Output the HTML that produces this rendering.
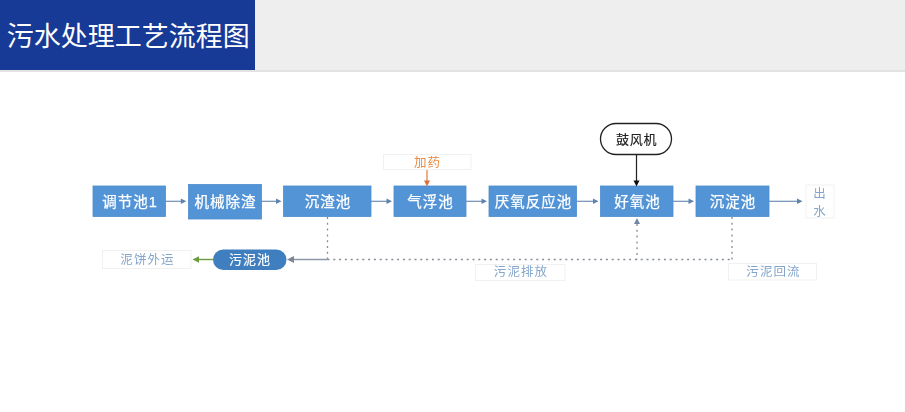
<!DOCTYPE html>
<html lang="zh-CN">
<head>
<meta charset="utf-8">
<title>污水处理工艺流程图</title>
<style>
html,body{margin:0;padding:0;background:#fff;}
body{width:905px;height:412px;overflow:hidden;position:relative;font-family:"Liberation Sans","Noto Sans CJK SC",sans-serif;}
.bar{position:absolute;left:0;top:0;width:905px;height:70px;background:#eeeeee;border-bottom:2px solid #e3e3e3;}
.title{position:absolute;left:0;top:0;width:255px;height:70px;background:#173a96;color:#fff;font-size:27px;line-height:74.5px;box-sizing:border-box;padding-left:6.7px;overflow:hidden;white-space:nowrap;}
svg{position:absolute;left:0;top:71px;}
.b{fill:#5394d6;stroke:#4c8ccf;stroke-width:0.8;}
.t{fill:#fff;stroke:#fff;stroke-width:0.25px;font-size:14.5px;letter-spacing:1px;text-anchor:middle;font-family:"Liberation Sans","Noto Sans CJK SC",sans-serif;}
.l{fill:#84a5cb;font-size:12.5px;letter-spacing:1.1px;text-anchor:middle;font-family:"Liberation Sans","Noto Sans CJK SC",sans-serif;}
.lb{fill:#fff;stroke:#f1f1f1;stroke-width:1;}
.a{stroke:#6f8fb5;stroke-width:1.2;fill:none;}
.ah{fill:#5f83ad;}
.d{stroke:#848d98;stroke-width:1.3;fill:none;stroke-dasharray:2 3.8;}
</style>
</head>
<body>
<div class="bar"></div>
<div class="title">污水处理工艺流程图</div>
<svg width="905" height="341" viewBox="0 71 905 341">
<g filter="url(#bl)">
<defs><filter id="bl" x="-5%" y="-5%" width="110%" height="110%"><feGaussianBlur stdDeviation="0.75"/></filter></defs>
<!-- main boxes -->
<rect class="b" x="93" y="186" width="72.5" height="30.5"/>
<rect class="b" x="188.5" y="184.5" width="73" height="34.5"/>
<rect class="b" x="283.5" y="186" width="87.5" height="30.5"/>
<rect class="b" x="394" y="186" width="72" height="30.5"/>
<rect class="b" x="489" y="186" width="87.5" height="30.5"/>
<rect class="b" x="600.5" y="186" width="72.5" height="30.5"/>
<rect class="b" x="696" y="186" width="73" height="30.5"/>
<text class="t" x="130" y="206.6">调节池1</text>
<text class="t" x="225.5" y="206.6">机械除渣</text>
<text class="t" x="328" y="206.6">沉渣池</text>
<text class="t" x="430.5" y="206.6">气浮池</text>
<text class="t" x="533.5" y="206.6">厌氧反应池</text>
<text class="t" x="637.5" y="206.6">好氧池</text>
<text class="t" x="733" y="206.6">沉淀池</text>
<!-- arrows between boxes -->
<g class="a">
<path d="M165.5 201.3H181"/><path d="M261.5 201.3H276"/><path d="M371 201.3H387"/><path d="M466 201.3H482"/><path d="M576.5 201.3H593"/><path d="M673 201.3H689"/><path d="M769 201.3H797"/>
</g>
<g class="ah">
<path d="M186.300 201.3l-5.500-2.700v5.400z"/><path d="M281.500 201.3l-5.500-2.700v5.400z"/><path d="M392 201.3l-5.500-2.700v5.400z"/><path d="M487 201.3l-5.500-2.700v5.400z"/><path d="M598.500 201.3l-5.500-2.700v5.400z"/><path d="M694 201.3l-5.500-2.700v5.400z"/><path d="M802.500 201.3l-5.500-2.700v5.400z"/>
</g>
<!-- 加药 -->
<rect class="lb" x="383.5" y="154.500" width="87.5" height="15"/>
<text x="427.5" y="167" style="fill:#ea8a40;font-size:12.5px;letter-spacing:1.1px;text-anchor:middle">加药</text>
<path d="M427 170V182" stroke="#e07a3a" stroke-width="1.2"/>
<path d="M427 186.500l-3-6h6z" fill="#e0703a"/>
<!-- 鼓风机 -->
<rect x="600.500" y="123.500" width="71" height="31" rx="15.5" ry="15.5" fill="#fff" stroke="#222" stroke-width="1.3"/>
<text x="636.600" y="143.700" style="fill:#222;stroke:#222;stroke-width:0.15px;font-size:13px;letter-spacing:0.7px;text-anchor:middle">鼓风机</text>
<path d="M636.5 155V181" stroke="#222" stroke-width="1.2"/>
<path d="M636.5 186.500l-3-6h6z" fill="#111"/>
<!-- 出水 -->
<rect class="lb" x="806" y="185" width="28" height="33"/>
<text class="l" x="820" y="197.500">出</text>
<text class="l" x="820" y="215.500">水</text>
<!-- dashed lines -->
<path class="d" d="M327.5 217V259.500"/>
<path class="d" d="M327.500 259.500H732"/>
<path class="d" d="M732 217V259.500"/>
<path class="d" d="M637 224V259.500"/>
<path d="M637 218l-3 6h6z" fill="#6f86a3"/>
<path d="M327.500 259.500H293" stroke="#8a98a8" stroke-width="1.3"/>
<path d="M287 259.500l7-3.500v7z" fill="#7d8793"/>
<!-- 污泥池 -->
<rect x="213" y="249.500" width="73.500" height="20.500" rx="10.250" ry="10.250" fill="#3f7fbf"/>
<text x="250" y="264.300" style="fill:#fff;stroke:#fff;stroke-width:0.2px;font-size:13px;letter-spacing:1px;text-anchor:middle">污泥池</text>
<path d="M213 259.500H198" stroke="#6d9a3c" stroke-width="1.4"/>
<path d="M192.500 259.500l6.500-3.200v6.400z" fill="#6d9a3c"/>
<!-- labels -->
<rect class="lb" x="102.500" y="250.500" width="88.500" height="18"/>
<text class="l" x="147.500" y="264">泥饼外运</text>
<rect class="lb" x="475.500" y="264.500" width="89.500" height="16"/>
<text class="l" x="521" y="276.300">污泥排放</text>
<rect class="lb" x="728.500" y="263.500" width="88" height="16.500"/>
<text class="l" x="773.500" y="276.300">污泥回流</text>
</g>
</svg>
</body>
</html>
